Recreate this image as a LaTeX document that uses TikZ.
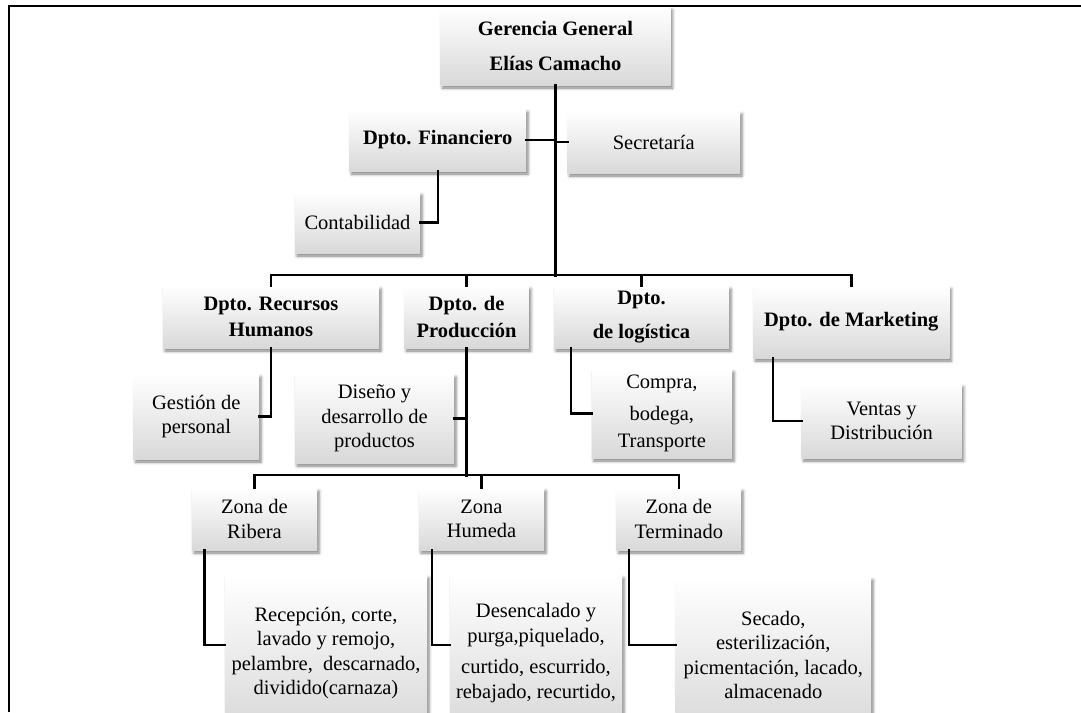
\documentclass[tikz,border=0pt]{standalone}
\usepackage{fontspec}
\setmainfont{Liberation Serif}
\usetikzlibrary{shadows.blur}
\begin{document}
\begin{tikzpicture}[x=1pt,y=-1pt,
  unit/.style={inner sep=0pt, align=center, draw=none,
    top color=white, bottom color=black!15,
    font=\fontsize{20.5}{24.5}\selectfont,
    blur shadow={shadow xshift=2pt, shadow yshift=-3pt,
                 shadow blur radius=3pt, shadow opacity=50}},
  head/.style={unit, font=\fontsize{20.5}{24.5}\selectfont\bfseries},
  conn/.style={line width=2.4pt, line cap=rect, line join=miter},
  trunk/.style={conn, line width=3.3pt},
  frame/.style={line width=2pt}]
\useasboundingbox (0,0) rectangle (1081,712);

% outer frame (only top and left sides fall inside the page)
\coordinate (fb) at (8.6,712);
\coordinate (fc) at (8.6,5.5);
\coordinate (fr) at (1081,5.5);
\draw[frame] (fb) -- (fc) -- (fr);

% level 0 and staff units
\node[head, minimum width=230pt, minimum height=78pt] (ger) at (555.5,46)
  {Gerencia General\\[10pt]Elías Camacho};
\node[head, minimum width=176.5pt, minimum height=62pt] (fin) at (437.75,140)
  {Dpto. Financiero};
\node[unit, minimum width=172.4pt, minimum height=62pt] (sec) at (653.8,142)
  {Secretaría};
\node[unit, minimum width=125pt, minimum height=61pt] (con) at (357.5,222.5)
  {Contabilidad};

% departments
\node[head, minimum width=216pt, minimum height=62pt] (rh) at (271,317)
  {Dpto. Recursos\\[2pt]Humanos};
\node[head, minimum width=124.6pt, minimum height=62pt] (prod) at (466.6,317)
  {Dpto. de\\[2pt]Producción};
\node[head, minimum width=175pt, minimum height=62pt] (log) at (641.5,317)
  {Dpto.\\[9pt]de logística};
\node[head, minimum width=196pt, minimum height=72pt] (mkt) at (851.3,322)
  {Dpto. de Marketing};

% department sub-units
\node[unit, minimum width=125.4pt, minimum height=85pt] (ges) at (196.3,416.5)
  {Gestión de\\personal};
\node[unit, minimum width=159pt, minimum height=89pt] (dis) at (374.5,418.5)
  {Diseño y\\desarrollo de\\productos};
\node[unit, minimum width=140.2pt, minimum height=89pt] (com) at (661.9,413.5)
  {Compra,\\[7pt]bodega,\\[3pt]Transporte};
\node[unit, minimum width=160pt, minimum height=74pt] (ven) at (881.6,421)
  {Ventas y\\Distribución};

% production zones
\node[unit, minimum width=125pt, minimum height=62pt] (rib) at (254.5,519)
  {Zona de\\Ribera};
\node[unit, minimum width=125pt, minimum height=62pt] (hum) at (481.5,519)
  {Zona\\Humeda};
\node[unit, minimum width=124.4pt, minimum height=62pt] (ter) at (678.8,519)
  {Zona de\\Terminado};

% process steps of each zone
\node[unit, minimum width=202pt, minimum height=156pt] (rec) at (326,653)
  {Recepción, corte,\\lavado y remojo,\\pelambre,\ \ descarnado,\\dividido(carnaza)};
\node[unit, minimum width=172pt, minimum height=156pt] (des) at (536,653)
  {Desencalado y\\purga,piquelado,\\[7pt]curtido, escurrido,\\rebajado, recurtido,};
\node[unit, minimum width=195.4pt, minimum height=156pt] (sca) at (773.3,655)
  {Secado,\\esterilización,\\picmentación, lacado,\\almacenado};

% junction levels
\coordinate (bus) at (0,275);
\coordinate (zbus) at (0,475);

% connectors
\draw[trunk] (ger.south) -- (ger.south |- bus);
\draw[conn] (fin.east) -- (fin.east -| ger.south);
\draw[conn] (sec.west) -- (sec.west -| ger.south);
\draw[conn] (fin.south) |- (con.east);

\draw[conn] (rh.north) -- (rh.north |- bus) -- (mkt.north |- bus) -- (mkt.north);
\draw[conn] (prod.north) -- (prod.north |- bus);
\draw[conn] (log.north) -- (log.north |- bus);

\draw[conn] (rh.south) |- (ges.east);
\draw[trunk] (prod.south) -- (prod.south |- zbus);
\draw[conn] (dis.east) -- (dis.east -| prod.south);
\draw[conn] ([xshift=17pt]log.south west) |- (com.west);
\draw[conn] ([xshift=20pt]mkt.south west) |- (ven.west);

\draw[conn] (rib.north) -- (rib.north |- zbus) -- (ter.north |- zbus) -- (ter.north);
\draw[conn] (hum.north) -- (hum.north |- zbus);

\draw[conn] ([xshift=12.5pt]rib.south west) |- ([yshift=8pt]rec.west);
\draw[conn] ([xshift=13pt]hum.south west) |- ([yshift=8pt]des.west);
\draw[conn] ([xshift=12.4pt]ter.south west) |- ([yshift=10pt]sca.west);
\end{tikzpicture}
\end{document}
